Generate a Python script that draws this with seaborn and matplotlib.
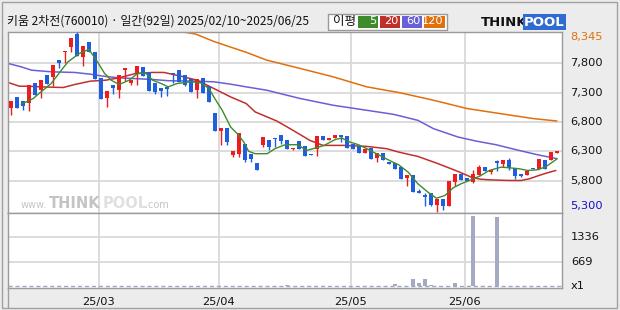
import matplotlib
matplotlib.use("Agg")
import matplotlib.pyplot as plt
from matplotlib.patches import Rectangle
from matplotlib import transforms
import seaborn as sns

# ---------------- data ----------------
title_text = "키움 2차전(760010) · 일간(92일) 2025/02/10~2025/06/25"
legend_title = "이평"
ma_labels = ["5", "20", "60", "120"]

open_ = [7040, 7223, 7155, 7126, 7463, 7343, 7600, 7571, 7856, 7993,
         8084, 8302, 7913, 8165, 7994, 7548, 7211, 7428, 7343, 7685,
         7468, 7617, 7737, 7651, 7463, 7377, 7400, 7630, 7685, 7600,
         7531, 7343, 7548, 7411, 6949, 6646, 6692, 6230, 6247, 6418,
         6247, 6093, 6401, 6487, 6521, 6572, 6487, 6338, 6470, 6384,
         6247, 6333, 6555, 6499, 6533, 6572, 6555, 6418, 6390, 6270,
         6361, 6184, 6264, 6099, 6099, 6030, 5841, 5888, 5619, 5562,
         5580, 5391, 5494, 5374, 5773, 5905, 5836, 5773, 5893, 6036,
         5945, 6122, 6088, 6156, 6008, 5905, 5893, 6019, 6002, 6144,
         6144, 6270]
close_ = [7155, 7040, 7075, 7428, 7257, 7514, 7446, 7771, 7805, 8010,
          8233, 7930, 8096, 7994, 7531, 7189, 7326, 7383, 7600, 7720,
          7514, 7754, 7583, 7326, 7309, 7331, 7365, 7612, 7475, 7440,
          7314, 7531, 7303, 7143, 6646, 6697, 6458, 6299, 6607, 6145,
          6168, 5978, 6544, 6373, 6510, 6476, 6340, 6355, 6335, 6215,
          6236, 6555, 6499, 6533, 6572, 6544, 6355, 6338, 6270, 6333,
          6167, 6264, 6150, 6088, 5996, 5819, 5888, 5602, 5592, 5516,
          5391, 5494, 5374, 5785, 5905, 5802, 5785, 5905, 6025, 5956,
          5985, 6105, 6144, 6008, 5876, 5876, 5962, 5990, 6174, 6002,
          6287, 6299]
high_ = [7165, 7230, 7160, 7430, 7465, 7515, 7600, 7771, 7860, 8010,
         8235, 8330, 8096, 8165, 7994, 7548, 7326, 7428, 7600, 7720,
         7514, 7754, 7737, 7651, 7463, 7377, 7400, 7630, 7685, 7600,
         7531, 7531, 7548, 7411, 6949, 6697, 6692, 6299, 6607, 6418,
         6247, 6093, 6544, 6487, 6535, 6572, 6487, 6355, 6470, 6384,
         6250, 6555, 6555, 6533, 6572, 6572, 6555, 6418, 6390, 6333,
         6361, 6264, 6264, 6099, 6099, 6030, 5888, 5888, 5660, 5592,
         5580, 5494, 5494, 5785, 5905, 5905, 5836, 5973, 6071, 6036,
         5985, 6156, 6144, 6190, 6008, 5910, 5962, 6019, 6174, 6144,
         6287, 6299]
low_ = [6927, 7035, 7000, 6983, 7255, 7211, 7446, 7417, 7720, 7800,
        7999, 7930, 7759, 7994, 7531, 7189, 7057, 7286, 7211, 7502,
        7428, 7428, 7583, 7326, 7286, 7228, 7245, 7458, 7475, 7420,
        7314, 7211, 7303, 7143, 6646, 6413, 6413, 6201, 6201, 6120,
        6116, 5978, 6379, 6316, 6373, 6430, 6340, 6316, 6335, 6215,
        6236, 6218, 6499, 6487, 6533, 6458, 6355, 6338, 6270, 6270,
        6167, 6116, 6150, 6088, 5996, 5819, 5716, 5602, 5592, 5370,
        5362, 5271, 5306, 5374, 5705, 5802, 5785, 5760, 5893, 5956,
        5917, 5962, 6030, 5973, 5819, 5870, 5893, 5990, 6002, 6002,
        6144, 6270]
volume = [5, 5, 5, 5, 5, 5, 5, 5, 5, 5,
          5, 5, 5, 5, 5, 5, 5, 5, 5, 5,
          5, 5, 5, 5, 5, 5, 5, 5, 5, 5,
          5, 5, 5, 5, 5, 5, 5, 5, 5, 5,
          5, 5, 5, 5, 5, 5, 40, 5, 5, 5,
          5, 5, 5, 5, 5, 5, 5, 5, 5, 5,
          5, 5, 5, 5, 50, 5, 5, 187, 70, 187,
          40, 5, 5, 5, 70, 5, 5, 1920, 5, 5,
          5, 1890, 5, 5, 5, 5, 5, 5, 5, 5,
          5, 5]

ma5_x = [1.7, 3.7, 5, 6.7, 8.4, 9.5, 11.4, 13, 14.4, 15.6, 16.7, 18, 19.7, 21.1,
         22.5, 23.6, 25, 26.2, 27.7, 30, 31.6, 33, 33.8, 35.2, 36.6, 37.7, 38.8,
         39.6, 40.7, 42.7, 44, 45.7, 47.7, 49.3, 50.7, 52.2, 54, 55.1, 56.5, 57.9,
         59.3, 60.7, 62, 63.4, 64.6, 66.2, 67.8, 69.5, 70.9, 72.3, 73.7, 75, 76.4,
         78.2, 79.7, 81.7, 83, 84.7, 86.1, 87.8, 89.2, 90.8, 91]
ma5_y = [7103, 7201, 7314, 7458, 7685, 7828, 7971, 8040, 7828, 7629, 7514, 7440, 7514, 7629,
         7629, 7514, 7458, 7400, 7458, 7486, 7468, 7372, 7228, 7000, 6715, 6602, 6458,
         6300, 6259, 6259, 6345, 6413, 6413, 6316, 6355, 6401, 6499, 6527, 6458, 6413,
         6345, 6270, 6201, 6127, 6070, 5944, 5746, 5602, 5499, 5545, 5677, 5746, 5802,
         5880, 5973, 6030, 6019, 6002, 5973, 5985, 6042, 6156, 6174]
ma20_x = [-0.5, 1.4, 2.8, 5, 8.7, 10.6, 13.2, 15.8, 18, 20.8, 23.6, 25.5, 28.3, 31,
          33.8, 36.6, 39.2, 40.7, 44.3, 47, 49.8, 52, 55.4, 59.3, 62.6, 64.5, 66.5,
          67.8, 71.2, 74.5, 76.7, 78.2, 79.7, 83, 85, 86.4, 88, 89.4, 90.8]
ma20_y = [7475, 7411, 7411, 7400, 7389, 7440, 7497, 7514, 7554, 7629, 7646, 7646, 7583, 7514,
          7372, 7228, 7115, 6972, 6817, 6658, 6487, 6401, 6401, 6384, 6345, 6290, 6242,
          6213, 6088, 5956, 5859, 5824, 5813, 5802, 5802, 5831, 5888, 5933, 5973]
ma60_x = [-0.5, 1.7, 3.4, 6.7, 10.6, 13.2, 15.3, 18, 23.6, 26.2, 31, 33.8, 36.6, 39.2,
          42.6, 48.2, 53.7, 59.3, 63.7, 64.8, 67.8, 70.4, 74.5, 77.5, 80.8, 84.2, 87.5, 91]
ma60_y = [7800, 7742, 7685, 7657, 7646, 7617, 7583, 7554, 7526, 7505, 7497, 7486, 7446, 7400,
          7343, 7201, 7086, 7000, 6932, 6905, 6829, 6687, 6544, 6475, 6413, 6327, 6247, 6174]
ma120_x = [28.3, 30.8, 33.8, 37, 39.2, 42.6, 48.2, 53.7, 59.3, 64.8, 70.4, 76, 81.5, 87.1, 91]
ma120_y = [8345, 8300, 8175, 8065, 7990, 7857, 7714, 7571, 7400, 7300, 7172, 7030, 6944, 6858, 6817]

price_ticks = [7800, 7300, 6800, 6300, 5800]
price_tick_labels = ["7,800", "7,300", "6,800", "6,300", "5,800"]
price_max_label = "8,345"
price_min_label = "5,300"
vol_ticks = [1336, 669]
vol_tick_labels = ["1336", "669", "x1"]
month_labels = ["25/03", "25/04", "25/05", "25/06"]
month_start_idx = [15, 35, 57, 76]

# ---------------- style ----------------
UP = "#ee1c1c"
DOWN = "#1f5fdf"
MA_COLORS = ["#3d8c2c", "#c0302a", "#6a5fd6", "#e0700b"]
GRID = "#d9d9d9"
BG = "#ececec"
VOLC = "#a3aac2"

sns.set_theme(style="white")
plt.rcParams['font.family'] = ['Noto Sans CJK KR', 'DejaVu Sans']

W, H = 620, 310
fig = plt.figure(figsize=(6.2, 3.1), dpi=100, facecolor=BG)

def fx(px):
    return px / W

def fy(py):
    return 1 - py / H

L, R = 8, 562
ax = fig.add_axes([fx(L), fy(213), fx(R - L), (213 - 31.5) / H])
axv = fig.add_axes([fx(L), fy(288), fx(R - L), (288 - 213) / H])

n = len(close_)
idx = list(range(n))

# ---- price panel ----
ax.set_facecolor("white")
for t in price_ticks:
    ax.axhline(t, color=GRID, lw=1.3, zorder=0)
for m in month_start_idx:
    ax.axvline(m - 0.4, color=GRID, lw=1.3, zorder=0)
    axv.axvline(m - 0.4, color=GRID, lw=1.3, zorder=0)

for i in idx:
    o, c, h, l = open_[i], close_[i], high_[i], low_[i]
    col = UP if c >= o else DOWN
    ax.vlines(i, l, h, color=col, lw=1.0, zorder=3)
    bot = min(o, c)
    hgt = max(abs(c - o), 22)
    ax.bar(i, hgt, bottom=bot, width=0.74, color=col, linewidth=0, zorder=4)

sns.lineplot(x=ma120_x, y=ma120_y, ax=ax, color=MA_COLORS[3], lw=1.1, sort=False, zorder=2)
sns.lineplot(x=ma60_x, y=ma60_y, ax=ax, color=MA_COLORS[2], lw=1.1, sort=False, zorder=2)
sns.lineplot(x=ma20_x, y=ma20_y, ax=ax, color=MA_COLORS[1], lw=1.1, sort=False, zorder=2)
sns.lineplot(x=ma5_x, y=ma5_y, ax=ax, color=MA_COLORS[0], lw=1.0, sort=False, zorder=5)

ax.set_xlim(-0.5, 91.83)
ax.set_ylim(5247, 8345)
ax.set_xticks([]); ax.set_yticks([])
ax.set_xlabel(""); ax.set_ylabel("")
for s in ax.spines.values():
    s.set_color("#9a9a9a"); s.set_linewidth(1.0)

# watermark
ax.text(0.022, 0.045, "www.", transform=ax.transAxes, fontsize=7, color="#c4c4c4",
        family=["DejaVu Sans"], va="center", ha="left", zorder=1)
ax.text(0.074, 0.055, "THINK", transform=ax.transAxes, fontsize=10.5, color="#c4c4c4",
        family=["DejaVu Sans"], weight="bold", va="center", ha="left", zorder=1)
ax.text(0.170, 0.055, "POOL", transform=ax.transAxes, fontsize=10.5, color="#e0e0e0",
        family=["DejaVu Sans"], weight="bold", va="center", ha="left", zorder=1)
ax.text(0.248, 0.045, ".com", transform=ax.transAxes, fontsize=7, color="#c4c4c4",
        family=["DejaVu Sans"], va="center", ha="left", zorder=1)

# right price labels
tr = transforms.blended_transform_factory(fig.transFigure, ax.transData)
for t, lab in zip(price_ticks, price_tick_labels):
    ax.text(fx(570), t, lab, transform=tr, fontsize=8.2, color="#111111",
            family=["DejaVu Sans"], va="center", ha="left")
ax.text(fx(570), 8250, price_max_label, transform=tr, fontsize=8.2, color="#e0700b",
        family=["DejaVu Sans"], va="center", ha="left")
ax.text(fx(570), 5365, price_min_label, transform=tr, fontsize=8.2, color="#1010c8",
        family=["DejaVu Sans"], va="center", ha="left")

# ---- volume panel ----
axv.set_facecolor("white")
for t in vol_ticks:
    axv.axhline(t, color=GRID, lw=1.3, zorder=0)
axv.axhline(0, color="#a0a6c0", lw=1.0, ls=(0, (3, 2)), zorder=1)
sns.barplot(x=idx, y=volume, ax=axv, native_scale=True, color=VOLC, width=0.75,
            saturation=1, errorbar=None, linewidth=0, zorder=3)
axv.set_xlim(-0.5, 91.83)
axv.set_ylim(-55, 2004)
axv.set_xticks([]); axv.set_yticks([])
axv.set_xlabel(""); axv.set_ylabel("")
for s in axv.spines.values():
    s.set_color("#9a9a9a"); s.set_linewidth(1.0)

trv = transforms.blended_transform_factory(fig.transFigure, axv.transData)
for t, lab in zip(vol_ticks + [0], vol_tick_labels):
    axv.text(fx(571), t, lab, transform=trv, fontsize=8.2, color="#111111",
             family=["DejaVu Sans"], va="center", ha="left")

trx = transforms.blended_transform_factory(axv.transData, fig.transFigure)
for m, lab in zip(month_start_idx, month_labels):
    axv.text(m - 0.4, fy(302), lab, transform=trx, fontsize=8.2, color="#111111",
             family=["DejaVu Sans"], va="center", ha="center")

# ---- header ----
fig.text(fx(7), fy(21.5), title_text, fontsize=8.6, color="#111111", va="center", ha="left")

fig.patches.append(Rectangle((fx(328), fy(29.5)), fx(447 - 328), (29.5 - 14) / H,
                             transform=fig.transFigure, facecolor="white",
                             edgecolor="#999999", lw=1.0))
fig.text(fx(344), fy(21.5), legend_title, fontsize=9, color="#111111", va="center", ha="center")
boxes = [(358, 378), (380, 400), (402, 422), (424, 445)]
for (x0, x1), lab, col in zip(boxes, ma_labels, MA_COLORS):
    fig.patches.append(Rectangle((fx(x0), fy(27.5)), fx(x1 - x0), 12 / H,
                                 transform=fig.transFigure, facecolor=col, edgecolor="none"))
    fig.text(fx(x1 - 1.5), fy(21.5), lab, fontsize=8.2, color="white",
             family=["DejaVu Sans"], va="center", ha="right")

# logo
fig.text(fx(481), fy(22), "THINK", fontsize=9.5, weight="bold", color="#111111",
         family=["DejaVu Sans"], va="center", ha="left")
fig.text(fx(524), fy(22), "POOL", fontsize=9.5, weight="bold", color="white",
         family=["DejaVu Sans"], va="center", ha="left",
         bbox=dict(boxstyle="square,pad=0.1", facecolor="#2f6bd0", edgecolor="none"))

# outer borders
fig.patches.append(Rectangle((fx(2), fy(308)), fx(615), 306 / H, transform=fig.transFigure,
                             facecolor="none", edgecolor="#a0a0a0", lw=1.0))
fig.lines.append(plt.Line2D([fx(7.5), fx(7.5)], [fy(288), fy(308)], transform=fig.transFigure,
                            color="#a0a0a0", lw=1.0))

fig.savefig("out.png", dpi=100, facecolor=BG)
